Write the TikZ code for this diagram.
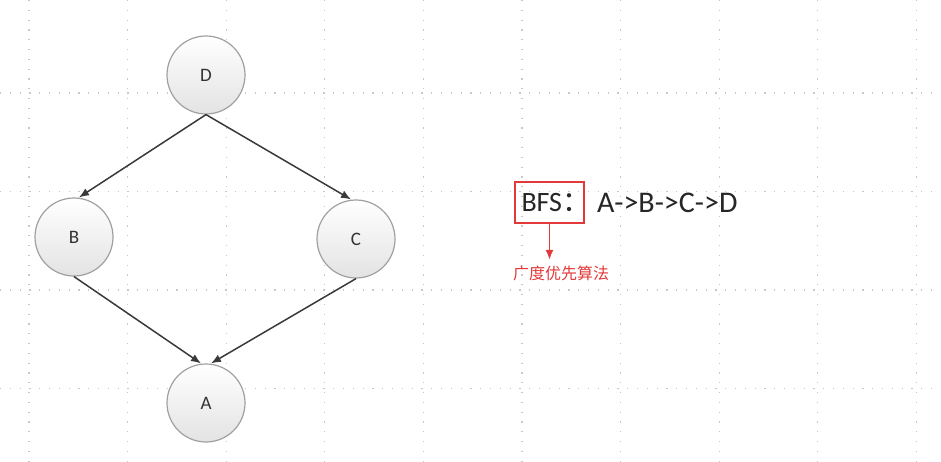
\documentclass[tikz,border=0pt]{standalone}
\usepackage{fontspec}
\setmainfont{Carlito}
\newfontfamily\cjk{Noto Sans CJK SC}
\usetikzlibrary{arrows.meta}
\definecolor{edgegray}{HTML}{3A3A3A}
\definecolor{rimgray}{HTML}{A0A0A0}
\definecolor{gridgray}{HTML}{C8C8C8}
\definecolor{notered}{HTML}{E23A3A}
\tikzset{
  gridline/.style={gridgray,line width=1.2pt,dash pattern=on 1.2pt off 8.6pt},
  vertex/.style={circle,draw=rimgray,line width=1.2pt,top color=white,bottom color=gray!22,
    minimum size=78pt,inner sep=0pt,font=\fontsize{19}{19}\selectfont,text=black!80},
  link/.style={edgegray,line width=1.5pt,-{Latex[length=10pt,width=8pt]}}
}
\begin{document}
\begin{tikzpicture}[x=1pt,y=-1pt]
      \useasboundingbox[fill=white] (0,0) rectangle (941,462);
      % dotted grid
      \foreach \gx in {0,...,9}
        \draw[gridline] (29+98.6*\gx,0) -- (29+98.6*\gx,462);
      \foreach \gy in {93,191.5,290,388.5}
        \draw[gridline] (0,\gy) -- (941,\gy);
      \begin{scope}[every node/.style={vertex}]
        \node (D) at (206, 75) {D};
        \node (B) at (74, 237) {B};
        \node (C) at (356, 239) {C};
        \node (A) at (206, 403) {A};
      \end{scope}
      \draw[link] (D.south) -- ([xshift=5pt]B.north);
      \draw[link] (D.south) -- ([xshift=-5pt]C.north);
      \draw[link] (B.south) -- ([xshift=-5pt]A.north);
      \draw[link] (C.south) -- ([xshift=5pt]A.north);
      % traversal order
      \node[draw=notered,line width=1.8pt,inner sep=0pt,minimum width=69pt,minimum height=41pt,
        font=\fontsize{28}{28}\selectfont,text=black!85] (bfs) at (549.5, 202.5)
        {\makebox[56pt][l]{BFS{\cjk ：}}};
      \node[anchor=west,inner sep=0pt,font=\fontsize{30}{30}\selectfont,text=black!85] (order)
        at (597, 202.5) {A->B->C->D};
      \node[font=\cjk\fontsize{16}{16}\selectfont,text=notered] (bfsname) at (561, 273) {广度优先算法};
      \draw[notered,line width=1.8pt,-{Latex[length=10pt,width=8pt]}] (bfs.south) -- ++(0,36);
\end{tikzpicture}
\end{document}
